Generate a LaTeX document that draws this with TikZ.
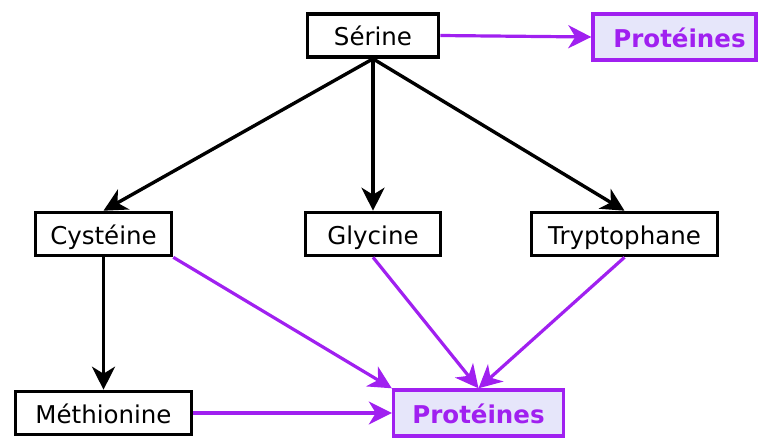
\documentclass[tikz,border=0pt]{standalone}
\usepackage{fontspec}
\setmainfont{DejaVu Sans}
\usetikzlibrary{arrows.meta}
\definecolor{protpurple}{HTML}{A020F0}
\definecolor{protfill}{HTML}{E6E6FA}

\begin{document}
\begin{tikzpicture}[x=1pt,y=-1pt,
    >={Stealth[length=23pt,width=23pt,inset=7pt]},
    aa/.style={draw,line width=3.6pt,minimum height=43pt,inner sep=0pt,
      text height=25pt,text depth=5pt,font=\fontsize{24.5}{28}\selectfont},
    prot/.style={draw=protpurple,fill=protfill,line width=3.4pt,minimum height=46pt,
      inner sep=0pt,text height=25pt,text depth=5pt,text=protpurple,
      font=\fontsize{24.5}{28}\selectfont\bfseries}]
    \useasboundingbox (0,0) rectangle (758,439);

    \node[aa,minimum width=131pt] (ser) at (373,35.5) {Sérine};
    \node[prot,minimum width=163pt] (p1) at (674.5,37) {\hspace*{10pt}Protéines};
    \node[aa,minimum width=136pt] (cys) at (103.5,234) {Cystéine};
    \node[aa,minimum width=135pt] (gly) at (373,234) {Glycine};
    \node[aa,minimum width=186pt] (trp) at (624.5,234) {Tryptophane};
    \node[aa,minimum width=176pt] (met) at (103.5,413) {Méthionine};
    \node[prot,minimum width=170pt] (p2) at (478.5,413) {Protéines};

    \draw[->,line width=3.4pt] (ser.south) -- (cys.north);
    \draw[->,line width=3.4pt] (ser.south) -- (gly.north);
    \draw[->,line width=3.4pt] (ser.south) -- (trp.north);
    \draw[->,line width=3.4pt] (cys.south) -- (met.north);

    \draw[->,line width=3.2pt,protpurple] (ser.east) -- (p1.west);
    \draw[->,line width=3.2pt,protpurple] (cys.south east) -- (p2.north west);
    \draw[->,line width=3.2pt,protpurple] (gly.south) -- (p2.north);
    \draw[->,line width=3.2pt,protpurple] (trp.south) -- (p2.north);
    \draw[->,line width=3.2pt,protpurple] (met.east) -- (p2.west);
\end{tikzpicture}
\end{document}
